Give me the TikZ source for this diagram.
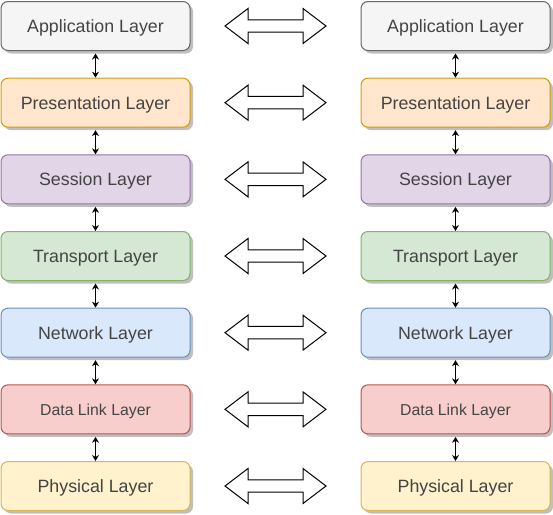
\documentclass[tikz,border=0pt]{standalone}
\usepackage{fontspec}
\setmainfont{Liberation Sans}
\usetikzlibrary{shadows,arrows.meta}
\definecolor{gfill}{HTML}{F5F5F5}\definecolor{gline}{HTML}{666666}
\definecolor{ofill}{HTML}{FFE6CC}\definecolor{oline}{HTML}{D79B00}
\definecolor{pfill}{HTML}{E1D5E7}\definecolor{pline}{HTML}{9673A6}
\definecolor{grfill}{HTML}{D5E8D4}\definecolor{grline}{HTML}{82B366}
\definecolor{bfill}{HTML}{DAE8FC}\definecolor{bline}{HTML}{6C8EBF}
\definecolor{rfill}{HTML}{F8CECC}\definecolor{rline}{HTML}{B85450}
\definecolor{yfill}{HTML}{FFF2CC}\definecolor{yline}{HTML}{D6B656}
\definecolor{txt}{HTML}{444444}
\begin{document}
\begin{tikzpicture}[x=1pt,y=-1pt,
  layer/.style={draw, line width=1pt, rounded corners=7pt, minimum width=189pt, minimum height=49pt,
    inner sep=0pt, text=txt, font=\fontsize{17.8}{21}\selectfont, text depth=0pt, text height=13pt,
    drop shadow={shadow xshift=3pt, shadow yshift=-3pt, opacity=0.25, fill=black}},
  gl/.style={layer, fill=gfill, draw=gline},
  ol/.style={layer, fill=ofill, draw=oline},
  pl/.style={layer, fill=pfill, draw=pline},
  grl/.style={layer, fill=grfill, draw=grline},
  bl/.style={layer, fill=bfill, draw=bline},
  rl/.style={layer, fill=rfill, draw=rline, font=\fontsize{15.8}{19}\selectfont, text height=11.5pt},
  yl/.style={layer, fill=yfill, draw=yline},
  link/.style={line width=1pt, {Stealth[length=6pt,width=7pt]}-{Stealth[length=6pt,width=7pt]}},
  blockarrow/.style={draw=black, fill=white, line width=1pt, line join=miter}
]
\useasboundingbox (0,0) rectangle (553,514);
\foreach \i/\st/\t in {1/gl/Application Layer,2/ol/Presentation Layer,3/pl/Session Layer,4/grl/Transport Layer,5/bl/Network Layer,6/rl/Data Link Layer,7/yl/Physical Layer}{
  \pgfmathsetmacro{\cy}{26+76.667*(\i-1)}
  \node[\st] (l\i) at (95.5,\cy) {\t};
  \node[\st] (r\i) at (455.5,\cy) {\t};
  \coordinate (m\i) at (275.5,\cy);
  \draw[blockarrow] ([shift={(-50.5,0)}]m\i) -- ([shift={(-27.5,-17.5)}]m\i) -- ([shift={(-27.5,-6.2)}]m\i)
    -- ([shift={(27.5,-6.2)}]m\i) -- ([shift={(27.5,-17.5)}]m\i) -- ([shift={(50.5,0)}]m\i)
    -- ([shift={(27.5,17.5)}]m\i) -- ([shift={(27.5,6.2)}]m\i) -- ([shift={(-27.5,6.2)}]m\i)
    -- ([shift={(-27.5,17.5)}]m\i) -- cycle;
}
\foreach \i [evaluate=\i as \j using int(\i+1)] in {1,...,6}{
  \draw[link] ([yshift=-2.5pt]l\i.south) -- (l\j.north);
  \draw[link] ([yshift=-2.5pt]r\i.south) -- (r\j.north);
}
\end{tikzpicture}
\end{document}
